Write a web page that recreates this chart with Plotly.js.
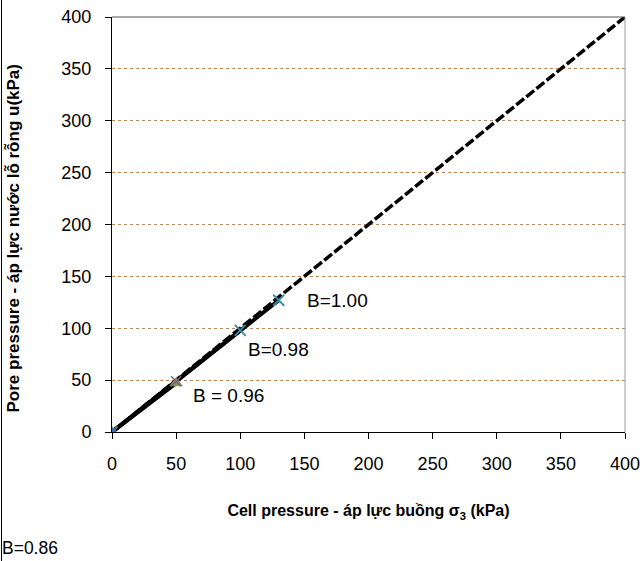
<!DOCTYPE html>
<html>
<head>
<meta charset="utf-8">
<script src="https://cdn.plot.ly/plotly-3.0.1.min.js"></script>
<style>html,body{margin:0;padding:0;background:#fff;}#chart{width:640px;height:561px;}</style>
</head>
<body>
<div id="chart"></div>
<script>
// Data
var refX = [0, 400];
var refY = [0, 400];
var b096X = [0, 50];
var b096Y = [0, 47];
var b086X = [0, 50];
var b086Y = [0, 49];
var b098X = [0, 100];
var b098Y = [0, 98];
var b100X = [0, 100, 130];
var b100Y = [0, 98, 127];
var b0X = [0];
var b0Y = [0];
var tickVals = [0, 50, 100, 150, 200, 250, 300, 350, 400];
var labelText = ["B=1.00", "B=0.98", "B = 0.96"];
var labelX = [151, 105, 62];
var labelY = [127, 80, 35];
var yTitle = 'Pore pressure - áp lực nước lỗ rỗng u(kPa)';
var xTitle = 'Cell pressure - áp lực buồng σ<sub>3</sub> (kPa)';

var FONT = 'Liberation Sans, Arial, sans-serif';
var L = 112, R = 15, T = 17, B = 129, W = 640, H = 561;
var pw = W - L - R, ph = H - T - B;

var traces = [
  {x: refX, y: refY, mode: 'lines', line: {color: '#000', width: 3.5, dash: '10px,3px'}},
  {x: b100X, y: b100Y, mode: 'lines', line: {color: '#000', width: 4}},
  {x: b098X, y: b098Y, mode: 'lines', line: {color: '#000', width: 4}},
  {x: b096X, y: b096Y, mode: 'lines', line: {color: '#000', width: 4}},
  {x: b096X, y: b096Y, mode: 'markers', marker: {symbol: 'triangle-up', size: 12, color: '#8a9a4a'}},
  {x: b086X, y: b086Y, mode: 'markers', marker: {symbol: 'x-thin', size: 10, line: {color: '#7a5a9a', width: 1.5}}},
  {x: b100X, y: b100Y, mode: 'markers', marker: {symbol: 'x-thin', size: 11, line: {color: '#3a8aa8', width: 1.8}}},
  {x: b0X, y: b0Y, mode: 'markers', marker: {symbol: 'square', size: 8, color: '#3a6aa8'}}
];

var annotations = labelText.map(function(t, i) {
  return {x: labelX[i], y: labelY[i], xref: 'x', yref: 'y', text: t, showarrow: false,
    xanchor: 'left', yanchor: 'middle', borderpad: 0,
    font: {family: FONT, size: 19, color: '#000'}};
});
annotations.push({x: (1 - L) / pw, y: (432 - 548) / ph, xref: 'paper', yref: 'paper', text: 'B=0.86',
  showarrow: false, xanchor: 'left', yanchor: 'middle', borderpad: 0,
  font: {family: FONT, size: 17.5, color: '#000'}});
annotations.push({x: (13 - L) / pw, y: 0.5 - 14 / ph, xref: 'paper', yref: 'paper', text: '<b>' + yTitle + '</b>',
  textangle: -90, showarrow: false, xanchor: 'center', yanchor: 'middle', borderpad: 0,
  font: {family: FONT, size: 17, color: '#000'}});

var layout = {
  width: W, height: H,
  margin: {l: L, r: R, t: T, b: B},
  paper_bgcolor: '#fff', plot_bgcolor: '#fff',
  showlegend: false,
  font: {family: FONT, size: 18, color: '#000'},
  xaxis: {
    range: [0, 400], tickvals: tickVals, ticks: 'outside', ticklen: 6, tickcolor: '#000',
    showline: true, linecolor: '#000', linewidth: 1, showgrid: false, zeroline: false,
    tickfont: {size: 18}, ticklabelstandoff: 9, ticklabeloverflow: 'allow',
    title: {text: '<b>' + xTitle + '</b>', font: {size: 16}, standoff: 32}
  },
  yaxis: {
    range: [0, 400], tickvals: tickVals, ticks: 'outside', ticklen: 6, tickcolor: '#000',
    showline: true, linecolor: '#000', linewidth: 1, showgrid: true,
    gridcolor: '#b8875c', griddash: 'dot', gridwidth: 1, zeroline: false,
    tickfont: {size: 18}, ticklabelstandoff: 10
  },
  annotations: annotations,
  shapes: [
    {type: 'line', xref: 'paper', yref: 'paper', x0: 0, x1: 1, y0: 1, y1: 1, line: {color: '#555', width: 1}},
    {type: 'line', xref: 'paper', yref: 'paper', x0: 1, x1: 1, y0: 0, y1: 1, line: {color: '#999', width: 1}},
    {type: 'line', xref: 'paper', yref: 'paper', x0: (1.5 - L) / pw, x1: (1.5 - L) / pw, y0: -B / ph, y1: 1 + T / ph, line: {color: '#000', width: 1}}
  ]
};

Plotly.newPlot('chart', traces, layout, {displayModeBar: false, staticPlot: true});
</script>
</body>
</html>
